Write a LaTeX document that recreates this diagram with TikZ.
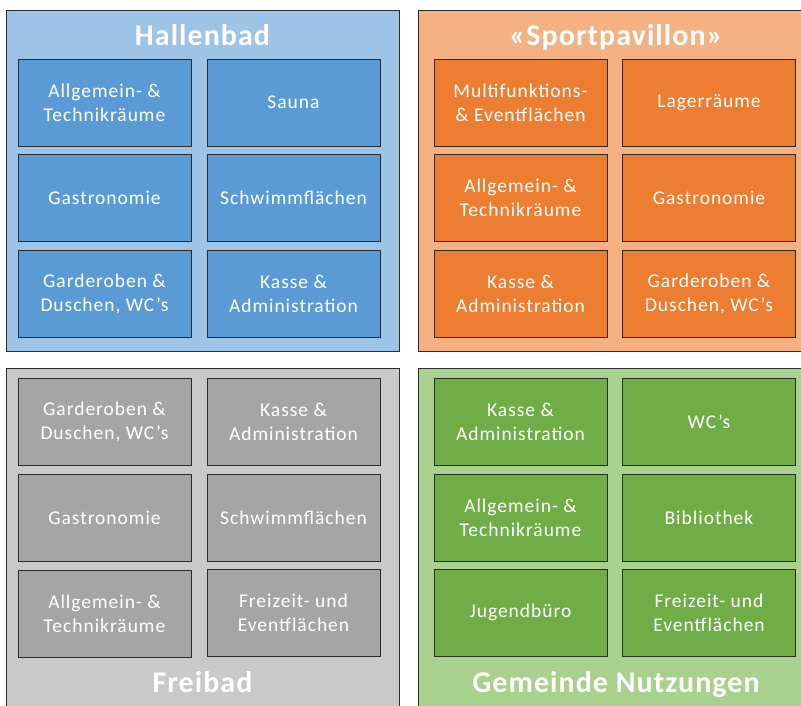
\documentclass[tikz,border=0pt]{standalone}
\usepackage{fontspec}
\setmainfont{Carlito}
\newfontfamily\cellfont[LetterSpace=5]{Carlito}
\newfontfamily\titlefont[LetterSpace=3.5]{Carlito}
\definecolor{bOut}{HTML}{9DC3E6}
\definecolor{bIn}{HTML}{5B9BD5}
\definecolor{oOut}{HTML}{F4B183}
\definecolor{oIn}{HTML}{ED7D31}
\definecolor{gOut}{HTML}{C9C9C9}
\definecolor{gIn}{HTML}{A5A5A5}
\definecolor{nOut}{HTML}{A9D18E}
\definecolor{nIn}{HTML}{70AD47}
\definecolor{edge}{HTML}{2B2B2B}
\begin{document}
\begin{tikzpicture}[x=1pt,y=-1pt,
  outer/.style={draw=edge, line width=0.8pt, minimum width=393pt, minimum height=341pt, anchor=north west, inner sep=0pt},
  cell/.style={draw=edge, line width=0.8pt, minimum width=173pt, minimum height=87pt, text=white,
    font=\cellfont\fontsize{19.5}{24}\selectfont, align=center, inner sep=0pt},
  grouptitle/.style={text=white, font=\titlefont\fontsize{30}{34}\selectfont\bfseries, inner sep=0pt, anchor=base}]
\useasboundingbox (0,0) rectangle (801,706);
\clip (0,0) rectangle (801,706);
\fill[white] (0,0) rectangle (801,706);
% outer groups
\node[outer, fill=bOut] (hb) at (6,10) {};
\node[outer, fill=oOut] (sp) at (418,10) {};
\node[outer, fill=gOut] (fb) at (6,368) {};
\node[outer, fill=nOut] (gn) at (418,368) {};
% titles
\node[grouptitle] (thb) at (202.5,46) {Hallenbad};
\node[grouptitle] (tsp) at (616,46) {«Sportpavillon»};
\node[grouptitle] (tfb) at (202.5,692) {Freibad};
\node[grouptitle] (tgn) at (616,692) {Gemeinde Nutzungen};
% Hallenbad
\node[cell, fill=bIn] (h11) at (104.5,102.5) {Allgemein- \&\\Technikräume};
\node[cell, fill=bIn] (h12) at (293.5,102.5) {Sauna};
\node[cell, fill=bIn] (h21) at (104.5,198) {Gastronomie};
\node[cell, fill=bIn] (h22) at (293.5,198) {Schwimmflächen};
\node[cell, fill=bIn] (h31) at (104.5,293.5) {Garderoben \&\\Duschen, WC’s};
\node[cell, fill=bIn] (h32) at (293.5,293.5) {Kasse \&\\Administration};
% Sportpavillon
\node[cell, fill=oIn] (s11) at (520.5,102.5) {Multifunktions-\\\& Eventflächen};
\node[cell, fill=oIn] (s12) at (709,102.5) {Lagerräume};
\node[cell, fill=oIn] (s21) at (520.5,198) {Allgemein- \&\\Technikräume};
\node[cell, fill=oIn] (s22) at (709,198) {Gastronomie};
\node[cell, fill=oIn] (s31) at (520.5,293.5) {Kasse \&\\Administration};
\node[cell, fill=oIn] (s32) at (709,293.5) {Garderoben \&\\Duschen, WC’s};
% Freibad
\node[cell, fill=gIn] (f11) at (104.5,422) {Garderoben \&\\Duschen, WC’s};
\node[cell, fill=gIn] (f12) at (293.5,422) {Kasse \&\\Administration};
\node[cell, fill=gIn] (f21) at (104.5,517.5) {Gastronomie};
\node[cell, fill=gIn] (f22) at (293.5,517.5) {Schwimmflächen};
\node[cell, fill=gIn] (f31) at (104.5,614) {Allgemein- \&\\Technikräume};
\node[cell, fill=gIn] (f32) at (293.5,612.5) {Freizeit- und\\Eventflächen};
% Gemeinde Nutzungen
\node[cell, fill=nIn] (g11) at (520.5,422) {Kasse \&\\Administration};
\node[cell, fill=nIn] (g12) at (709,422) {WC’s};
\node[cell, fill=nIn] (g21) at (520.5,517.5) {Allgemein- \&\\Technikräume};
\node[cell, fill=nIn] (g22) at (709,517.5) {Bibliothek};
\node[cell, fill=nIn] (g31) at (520.5,612.5) {Jugendbüro};
\node[cell, fill=nIn] (g32) at (709,612.5) {Freizeit- und\\Eventflächen};
\end{tikzpicture}
\end{document}
